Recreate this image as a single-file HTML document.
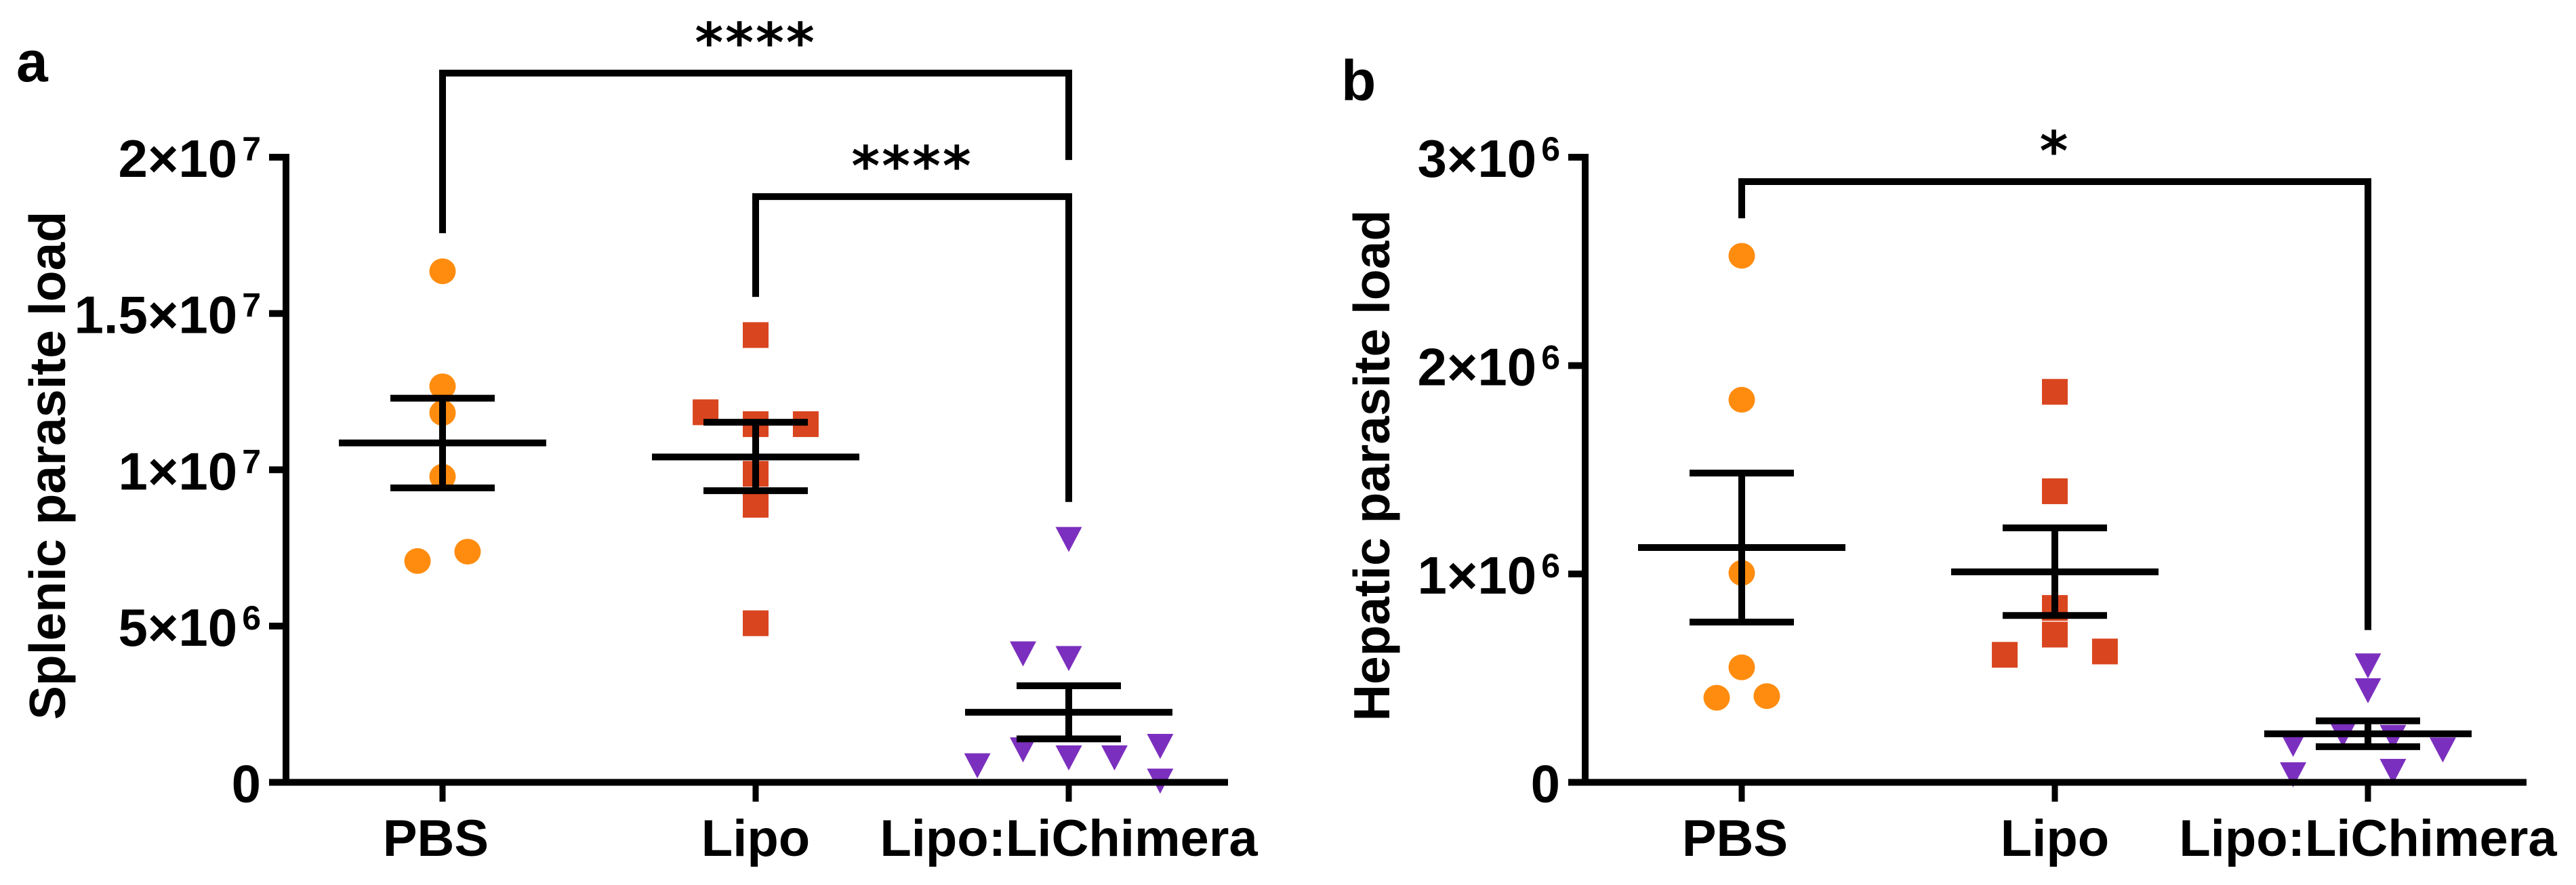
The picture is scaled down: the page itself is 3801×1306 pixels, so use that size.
<!DOCTYPE html>
<html lang="en">
<head>
<meta charset="utf-8">
<title>Splenic and hepatic parasite load</title>
<style>
html,body{margin:0;padding:0;background:#fff;width:3801px;height:1306px;overflow:hidden}
svg{display:block}
text{font-family:"Liberation Sans",Arial,sans-serif;font-weight:700;fill:#000}
</style>
</head>
<body>
<svg id="figure" xmlns="http://www.w3.org/2000/svg" width="3801" height="1306" viewBox="0 0 3801 1306">
  <rect x="0" y="0" width="3801" height="1306" fill="#ffffff"/>
  <text x="24" y="120" font-size="84">a</text>
  <text x="1979" y="148" font-size="84">b</text>
</svg>
<script>
// Shared categories
const categories = ['PBS', 'Lipo', 'Lipo:LiChimera'];

// Panel a: splenic parasite load
const splenicPbs = [1.635e7, 1.267e7, 1.182e7, 0.978e7, 0.738e7, 0.708e7];
const splenicPbsJitter = [0, 0, 0, 0, 0.08, -0.08];
const splenicLipo = [1.431e7, 1.184e7, 1.146e7, 1.146e7, 0.987e7, 0.888e7, 0.509e7];
const splenicLipoJitter = [0, -0.16, 0, 0.16, 0, 0, 0];
const splenicChimera = [0.778e7, 0.412e7, 0.397e7, 0.105e7, 0.079e7, 0.079e7, 0.116e7, 0.054e7, 0.005e7];
const splenicChimeraJitter = [0, -0.146, 0, -0.146, 0, 0.146, 0.292, -0.292, 0.292];
const splenicMeans = [1.086e7, 1.041e7, 0.224e7];
const splenicSemUpper = [1.229e7, 1.152e7, 0.309e7];
const splenicSemLower = [0.942e7, 0.933e7, 0.139e7];
const splenicTicks = [0, 5e6, 1e7, 1.5e7, 2e7];
const splenicTickMantissas = ['0', '5×10', '1×10', '1.5×10', '2×10'];
const splenicTickExponents = ['', '6', '7', '7', '7'];

// Panel b: hepatic parasite load
const hepaticPbs = [2.527e6, 1.836e6, 1.005e6, 0.552e6, 0.414e6, 0.406e6];
const hepaticPbsJitter = [0, 0, 0, 0, 0.08, -0.08];
const hepaticLipo = [1.874e6, 1.397e6, 0.837e6, 0.709e6, 0.612e6, 0.628e6];
const hepaticLipoJitter = [0, 0, 0, 0, -0.16, 0.16];
const hepaticChimera = [0.56e6, 0.441e6, 0.23e6, 0.217e6, 0.184e6, 0.157e6, 0.038e6, 0.054e6];
const hepaticChimeraJitter = [0, 0, -0.08, 0.08, -0.239, 0.239, -0.239, 0.08];
const hepaticMeans = [1.127e6, 1.01e6, 0.233e6];
const hepaticSemUpper = [1.484e6, 1.221e6, 0.295e6];
const hepaticSemLower = [0.769e6, 0.801e6, 0.171e6];
const hepaticTicks = [0, 1e6, 2e6, 3e6];
const hepaticTickMantissas = ['0', '1×10', '2×10', '3×10'];
const hepaticTickExponents = ['', '6', '6', '6'];

// Significance brackets: from category, to category, bar level, left end, right end (data units)
const splenicBracketFrom = [0, 1];
const splenicBracketTo = [2, 2];
const splenicBracketLevel = [2.269e7, 1.874e7];
const splenicBracketLeftEnd = [1.757e7, 1.553e7];
const splenicBracketRightEnd = [1.991e7, 0.897e7];
const splenicBracketLabel = ['****', '****'];
const hepaticBracketFrom = [0];
const hepaticBracketTo = [2];
const hepaticBracketLevel = [2.883e6];
const hepaticBracketLeftEnd = [2.707e6];
const hepaticBracketRightEnd = [0.731e6];
const hepaticBracketLabel = ['*'];

const NS = 'http://www.w3.org/2000/svg';
const figure = document.getElementById('figure');
const COLORS = ['#ff8c0f', '#d9451f', '#7b2fbe'];
const AXIS_BOTTOM = 1154.5, AXIS_TOP = 232, CATEGORY_STEP = 462, LINE = 10;

function make(parent, tag, attrs, content) {
  const el = document.createElementNS(NS, tag);
  for (const key in attrs) el.setAttribute(key, attrs[key]);
  if (content !== undefined) el.textContent = content;
  parent.appendChild(el);
  return el;
}

function line(parent, x1, y1, x2, y2, width) {
  return make(parent, 'line', { x1: x1, y1: y1, x2: x2, y2: y2, stroke: '#000', 'stroke-width': width || LINE });
}

function drawMarker(parent, shape, cx, cy) {
  if (shape === 0) return make(parent, 'ellipse', { cx: cx, cy: cy, rx: 19.5, ry: 19, fill: COLORS[0] });
  if (shape === 1) return make(parent, 'rect', { x: cx - 19, y: cy - 19, width: 38, height: 38, fill: COLORS[1] });
  return make(parent, 'polygon', { points: (cx - 19.5) + ',' + (cy - 18) + ' ' + (cx + 19.5) + ',' + (cy - 18) + ' ' + cx + ',' + (cy + 19), fill: COLORS[2] });
}

function drawPanel(p) {
  const panel = make(figure, 'g', {});
  
  

  const xScale = function (c) { return p.x0 + c * CATEGORY_STEP; };
  const yScale = function (v) { return AXIS_BOTTOM - v / p.max * (AXIS_BOTTOM - AXIS_TOP); };

  // markers
  p.series.forEach(function (values, s) {
    const group = make(panel, 'g', {});
    
    
    values.forEach(function (v, i) {
      const mark = drawMarker(group, s, xScale(s + p.jitter[s][i]), yScale(v));
      
      
    });
  });

  // axes
  const axes = make(panel, 'g', {});
  
  
  const yAxis = line(axes, p.axisX, yScale(0) + LINE / 2, p.axisX, yScale(p.max) - LINE / 2);
  
  
  const xAxis = line(axes, p.axisX - 25, yScale(0), p.axisRight, yScale(0));
  
  

  p.ticks.forEach(function (v, i) {
    const y = yScale(v);
    const tick = line(axes, p.axisX - 25, y, p.axisX, y);
    
    
    const label = make(axes, 'text', { x: p.axisX - 37, y: y + 29, 'font-size': 78, 'text-anchor': 'end' });
    
    
    const mantissa = make(label, 'tspan', {}, p.mantissas[i]);
    
    
    if (p.exponents[i]) {
      const exponent = make(label, 'tspan', { dy: -24, 'font-size': 50, dx: 7 }, p.exponents[i]);
      
      
    }
  });

  categories.forEach(function (name, c) {
    const tick = line(axes, xScale(c), yScale(0), xScale(c), 1183, 9);
    
    
    const label = make(axes, 'text', { x: xScale(c) - (c === 0 ? 10 : 0), y: 1263, 'font-size': 76, 'text-anchor': 'middle' }, name);
    
    
  });

  const title = make(panel, 'text', { x: 0, y: 0, 'font-size': 75, 'text-anchor': 'middle', transform: 'translate(' + p.titleX + ' 687) rotate(-90)' }, p.title);
  
  

  // mean and SEM
  categories.forEach(function (name, c) {
    const cx = xScale(c);
    const group = make(panel, 'g', {});
    
    
    const mean = line(group, cx - 153, yScale(p.means[c]), cx + 153, yScale(p.means[c]));
    
    
    const stem = line(group, cx, yScale(p.upper[c]), cx, yScale(p.lower[c]));
    
    
    const capTop = line(group, cx - 77, yScale(p.upper[c]), cx + 77, yScale(p.upper[c]));
    
    
    const capBottom = line(group, cx - 77, yScale(p.lower[c]), cx + 77, yScale(p.lower[c]));
    
    
  });

  // significance brackets
  p.bracketFrom.forEach(function (from, b) {
    const x1 = xScale(from), x2 = xScale(p.bracketTo[b]), level = yScale(p.bracketLevel[b]);
    const pts = [x1 + ',' + yScale(p.bracketLeftEnd[b]), x1 + ',' + level, x2 + ',' + level, x2 + ',' + yScale(p.bracketRightEnd[b])].join(' ');
    const bracket = make(panel, 'polyline', { points: pts, fill: 'none', stroke: '#000', 'stroke-width': LINE, 'stroke-linejoin': 'miter' });
    
    
    const stars = make(panel, 'text', { x: (x1 + x2) / 2, y: level - 17, 'font-size': 80, 'letter-spacing': 3, 'text-anchor': 'middle', style: 'font-family:"DejaVu Sans",sans-serif' }, p.bracketLabel[b]);
    
    
  });
}

drawPanel({
  name: 'splenic', x0: 653, axisX: 422, axisRight: 1812, titleX: 96, max: 2e7, title: 'Splenic parasite load',
  series: [splenicPbs, splenicLipo, splenicChimera],
  jitter: [splenicPbsJitter, splenicLipoJitter, splenicChimeraJitter],
  means: splenicMeans, upper: splenicSemUpper, lower: splenicSemLower,
  ticks: splenicTicks, mantissas: splenicTickMantissas, exponents: splenicTickExponents,
  bracketFrom: splenicBracketFrom, bracketTo: splenicBracketTo, bracketLevel: splenicBracketLevel,
  bracketLeftEnd: splenicBracketLeftEnd, bracketRightEnd: splenicBracketRightEnd, bracketLabel: splenicBracketLabel
});
drawPanel({
  name: 'hepatic', x0: 2570, axisX: 2339, axisRight: 3728, titleX: 2050, max: 3e6, title: 'Hepatic parasite load',
  series: [hepaticPbs, hepaticLipo, hepaticChimera],
  jitter: [hepaticPbsJitter, hepaticLipoJitter, hepaticChimeraJitter],
  means: hepaticMeans, upper: hepaticSemUpper, lower: hepaticSemLower,
  ticks: hepaticTicks, mantissas: hepaticTickMantissas, exponents: hepaticTickExponents,
  bracketFrom: hepaticBracketFrom, bracketTo: hepaticBracketTo, bracketLevel: hepaticBracketLevel,
  bracketLeftEnd: hepaticBracketLeftEnd, bracketRightEnd: hepaticBracketRightEnd, bracketLabel: hepaticBracketLabel
});
</script>
</body>
</html>
